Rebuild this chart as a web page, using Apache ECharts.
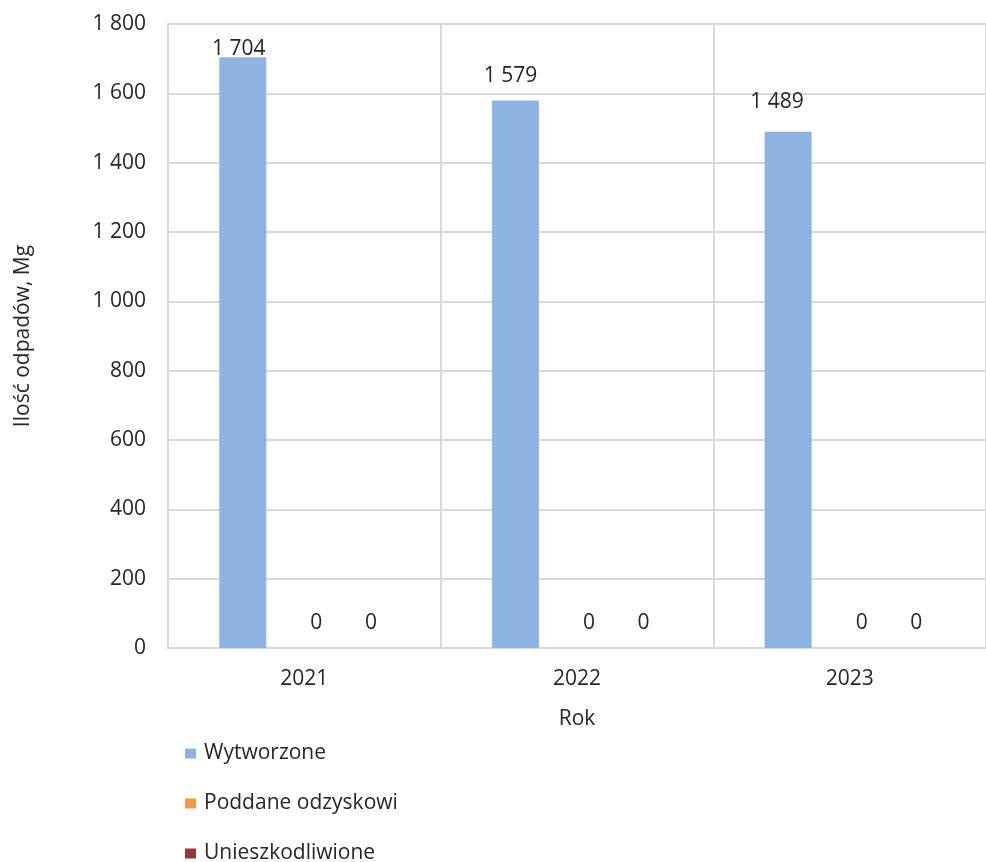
<!DOCTYPE html>
<html>
<head>
<meta charset="utf-8">
<script src="https://cdn.jsdelivr.net/npm/echarts@6/dist/echarts.min.js"></script>
<style>
html,body{margin:0;padding:0;background:#fff;}
#chart{width:986px;height:862px;}
</style>
</head>
<body>
<div id="chart"></div>
<script>
// ---- data ----
const categories = ['2021', '2022', '2023'];
const seriesNames = ['Wytworzone', 'Poddane odzyskowi', 'Unieszkodliwione'];
const wytworzone = [1704, 1579, 1489];
const poddaneOdzyskowi = [0, 0, 0];
const unieszkodliwione = [0, 0, 0];
const yTicks = [0, 200, 400, 600, 800, 1000, 1200, 1400, 1600, 1800];

// ---- style (label placement as in the original) ----
const FONT = 'Open Sans';
const FS = 21;
const TXT = '#262626';
const topLabelDistance = [-2, 14, 19];
const topLabelShift = [-4, -5, -11];

function fmt(v) {
  return String(v).replace(/\B(?=(\d{3})+(?!\d))/g, ' ');
}
const labelBase = {show: true, position: 'top', fontFamily: FONT, fontSize: FS, color: TXT, formatter: p => fmt(p.value)};

const chart = echarts.init(document.getElementById('chart'), null, {renderer: 'canvas'});
chart.setOption({
  animation: false,
  backgroundColor: '#ffffff',
  textStyle: {fontFamily: FONT},
  grid: {left: 168, right: -13, top: 24, bottom: 214, containLabel: false},
  legend: {
    orient: 'vertical',
    left: 185,
    top: 743,
    width: 300,
    height: 200,
    padding: 0,
    itemWidth: 11,
    itemHeight: 10,
    itemGap: 29,
    icon: 'rect',
    textStyle: {fontFamily: FONT, fontSize: FS, color: TXT, lineHeight: 18, padding: [0, 0, 0, 3]},
    data: seriesNames
  },
  xAxis: {
    type: 'category',
    data: categories,
    name: 'Rok',
    nameLocation: 'middle',
    nameGap: 61,
    nameTextStyle: {fontFamily: FONT, fontSize: FS, color: TXT},
    axisLine: {lineStyle: {color: '#d9d9d9', width: 2}},
    axisTick: {show: false},
    axisLabel: {fontFamily: FONT, fontSize: FS, color: TXT, margin: 21},
    splitLine: {show: true, lineStyle: {color: '#d9d9d9', width: 2}}
  },
  yAxis: {
    type: 'value',
    min: yTicks[0],
    max: yTicks[yTicks.length - 1],
    interval: 200,
    name: 'Ilość odpadów, Mg',
    nameLocation: 'middle',
    nameGap: 134,
    nameTextStyle: {fontFamily: FONT, fontSize: FS, color: TXT},
    axisLine: {show: true, lineStyle: {color: '#d9d9d9', width: 2}},
    axisTick: {show: false},
    axisLabel: {fontFamily: FONT, fontSize: FS, color: TXT, margin: 22, formatter: v => fmt(v)},
    splitLine: {show: true, lineStyle: {color: '#d9d9d9', width: 2}}
  },
  series: [
    {
      name: seriesNames[0], type: 'bar',
      data: wytworzone.map((v, i) => ({value: v, label: {distance: topLabelDistance[i], offset: [topLabelShift[i], 0]}})),
      barWidth: 47, barGap: '31%', barCategoryGap: '38%',
      itemStyle: {color: '#8eb4e3'},
      label: Object.assign({}, labelBase)
    },
    {
      name: seriesNames[1], type: 'bar', data: poddaneOdzyskowi,
      barWidth: 47, barGap: '31%',
      itemStyle: {color: '#f79646'},
      label: Object.assign({}, labelBase, {distance: 14, offset: [12, 0]})
    },
    {
      name: seriesNames[2], type: 'bar', data: unieszkodliwione,
      barWidth: 47, barGap: '31%',
      itemStyle: {color: '#953735'},
      label: Object.assign({}, labelBase, {distance: 14, offset: [5, 0]})
    }
  ]
});
</script>
</body>
</html>
